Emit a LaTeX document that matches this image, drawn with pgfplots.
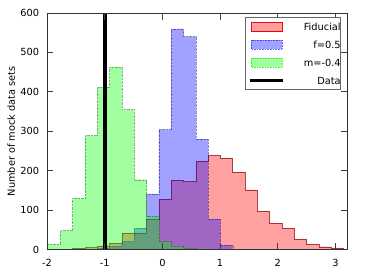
\documentclass[border=0pt]{standalone}
\usepackage{fontspec}
\setmainfont{DejaVu Sans}
\usepackage{pgfplots}
\pgfplotsset{compat=1.18}
\newcommand{\lblfont}{\fontsize{9.8}{11}\selectfont}
\begin{document}
\begin{tikzpicture}
\begin{axis}[
  name=ax,
  scale only axis,
  width=300pt, height=236.5pt,
  xmin=-2, xmax=3.2, ymin=0, ymax=600,
  xtick={-2,-1,0,1,2,3},
  xticklabels={-2,-1,0,1,2,3},
  ytick={0,100,200,300,400,500,600},
  yticklabels={0,100,200,300,400,500,600},
  axis on top,
  axis line style={black!80, line width=0.8pt},
  tick style={black!75, line width=0.8pt},
  major tick length=6.5pt,
  tick align=inside,
  every tick label/.append style={font=\lblfont},
  xticklabel style={inner sep=0pt, anchor=north, yshift=-9.5pt},
  yticklabel style={inner sep=0pt, anchor=east, xshift=-7.7pt},
  ylabel={Number of mock data sets},
  every axis y label/.style={at={(axis description cs:-0.1067,0.5)}, rotate=90, anchor=base, font=\lblfont},
  legend style={
    at={(axis description cs:0.98,0.982)}, anchor=north east,
    draw=black!60, line width=0.6pt, fill=white,
    inner xsep=0pt, inner ysep=0pt,
    column sep=19pt,
    font=\lblfont,
    nodes={inner sep=0pt, text height=12.5pt, text depth=5.5pt},
  },
  legend cell align=right,
]
% Fiducial
\addplot[const plot, forget plot, fill=red, fill opacity=0.37, draw=red!55!black, draw opacity=0.7, line width=0.45pt]
coordinates {(-1.768,1) (-1.555,3) (-1.341,5) (-1.128,9) (-0.915,16) (-0.701,42) (-0.488,41) (-0.274,77) (-0.061,128) (0.152,176) (0.366,172) (0.579,224) (0.793,238) (1.006,232) (1.219,196) (1.433,151) (1.646,98) (1.860,67) (2.073,54) (2.287,27) (2.500,13) (2.714,7) (2.927,4) (3.140,1) (3.354,1)} \closedcycle;
% f=0.5
\addplot[const plot, forget plot, fill=blue, fill opacity=0.37, draw=blue!50!black, draw opacity=0.45, densely dotted, line width=0.4pt]
coordinates {(-1.341,1) (-1.128,3) (-0.915,8) (-0.701,20) (-0.488,54) (-0.274,141) (-0.061,304) (0.152,560) (0.366,540) (0.579,280) (0.793,77) (1.006,11) (1.219,1) (1.433,1)} \closedcycle;
% m=-0.4
\addplot[const plot, forget plot, fill=green, fill opacity=0.37, draw=green!35!black, draw opacity=0.45, densely dotted, line width=0.4pt]
coordinates {(-2,13) (-1.768,48) (-1.555,130) (-1.341,289) (-1.128,412) (-0.915,463) (-0.701,355) (-0.488,177) (-0.274,85) (-0.061,20) (0.152,9) (0.366,4) (0.579,2) (0.793,1) (1.006,1)} \closedcycle;
% Data
\addplot[forget plot, black, line width=4pt] coordinates {(-1.0,0) (-1.0,600)};

\addlegendimage{legend image code/.code={\path (0pt,0pt); \draw[fill=red, fill opacity=0.37, draw=red, line width=0.6pt] (6pt,-4.5pt) rectangle (37pt,4.5pt);}}
\addlegendentry{Fiducial}
\addlegendimage{legend image code/.code={\path (0pt,0pt); \draw[fill=blue, fill opacity=0.37, draw=blue, draw opacity=0.6, densely dotted, line width=0.6pt] (6pt,-4.5pt) rectangle (37pt,4.5pt);}}
\addlegendentry{f=0.5}
\addlegendimage{legend image code/.code={\path (0pt,0pt); \draw[fill=green, fill opacity=0.37, draw=green, draw opacity=0.8, densely dotted, line width=0.6pt] (6pt,-4.5pt) rectangle (37pt,4.5pt);}}
\addlegendentry{m=-0.4}
\addlegendimage{legend image code/.code={\path (0pt,0pt); \draw[black, line width=3pt] (5pt,0pt) -- (38pt,0pt);}}
\addlegendentry{Data}
\end{axis}
\path (ax.south west) ++(-47pt,-24.5pt);
\path (ax.north east) ++(19pt,13pt);
\end{tikzpicture}
\end{document}
